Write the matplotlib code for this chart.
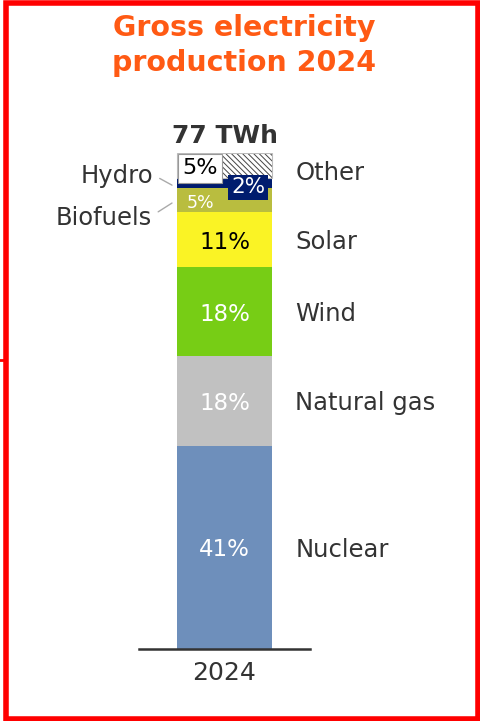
import matplotlib
matplotlib.use("Agg")
import matplotlib.pyplot as plt
from matplotlib.patches import Rectangle
from matplotlib.lines import Line2D

categories = ["Nuclear", "Natural gas", "Wind", "Solar", "Biofuels", "Hydro", "Other"]
shares = [41, 18, 18, 11, 5, 2, 5]
colors = ["#6e8fbb", "#c1c1c1", "#77cd15", "#faf325", "#b9bd3f", "#001c6e", "#ffffff"]
pct_colors = ["white", "white", "white", "black", "white", "white", "black"]
year = "2024"
total_label = "77 TWh"
title_lines = ["Gross electricity", "production 2024"]

plt.rcParams['font.family'] = ['DejaVu Sans']
plt.rcParams['hatch.linewidth'] = 0.7

TXT = "#333333"
fig = plt.figure(figsize=(4.81, 7.21), dpi=100)
ax = fig.add_axes([0.289, 0.0999, 0.3555, 0.688])

x = 0
width = 0.555
bottom = 0
centers = []
for cat, v, c in zip(categories, shares, colors):
    if cat == "Other":
        ax.bar(x, v, width, bottom=bottom, color=c, hatch="\\\\\\\\\\\\",
               edgecolor="#444444", linewidth=0.0)
        ax.bar(x, v, width, bottom=bottom, fill=False, edgecolor="#bbbbbb", linewidth=0.8)
    else:
        ax.bar(x, v, width, bottom=bottom, color=c, linewidth=0)
    centers.append(bottom + v / 2)
    bottom += v

ax.set_xlim(-0.5, 0.5)
ax.set_ylim(0, 100)
for s in ["top", "right", "left"]:
    ax.spines[s].set_visible(False)
ax.spines["bottom"].set_color(TXT)
ax.spines["bottom"].set_linewidth(1.8)
ax.set_yticks([])
ax.set_xticks([x])
ax.set_xticklabels([year], fontsize=18, color=TXT)
ax.tick_params(axis="x", length=0, pad=9)

label_x = 0.415
lead_x = -0.307
for i, cat in enumerate(categories):
    v = shares[i]
    cy = centers[i]
    if cat in ("Nuclear", "Natural gas", "Wind", "Solar"):
        ax.text(label_x, cy, cat, fontsize=17.5, color=TXT, va="center_baseline", ha="left")
        ax.text(x, cy, f"{v}%", fontsize=16.5, color=pct_colors[i],
                va="center_baseline", ha="center")
    elif cat == "Other":
        ax.annotate(cat, (label_x, cy), xytext=(0, -4), textcoords="offset points",
                    fontsize=17.5, color=TXT, va="center_baseline", ha="left",
                    annotation_clip=False)
        ax.annotate(f"{v}%", (x - width / 2, bottom), xytext=(3.8, -3.8),
                    textcoords="offset points", fontsize=16, color="black",
                    va="top", ha="left", annotation_clip=False,
                    bbox=dict(boxstyle="square,pad=0.2", fc="white", ec="#999999", lw=0.8))
    elif cat == "Hydro":
        ax.annotate(cat, (lead_x, cy - 0.5), xytext=(-13.5, 1.5), textcoords="offset points",
                    fontsize=17.5, color=TXT, va="baseline", ha="right",
                    annotation_clip=False,
                    arrowprops=dict(arrowstyle="-", color="#aaaaaa", lw=1,
                                    shrinkA=3, shrinkB=0, relpos=(1, 0.55)))
        ax.annotate(f"{v}%", (x + width / 2, cy), xytext=(-5, -2), textcoords="offset points",
                    fontsize=15.5, color="white", va="center_baseline", ha="right",
                    annotation_clip=False,
                    bbox=dict(boxstyle="square,pad=0.12", fc=colors[i], ec="none"))
    elif cat == "Biofuels":
        ax.annotate(cat, (lead_x, cy - 0.6), xytext=(-14.5, -16), textcoords="offset points",
                    fontsize=17.5, color=TXT, va="baseline", ha="right",
                    annotation_clip=False,
                    arrowprops=dict(arrowstyle="-", color="#aaaaaa", lw=1,
                                    shrinkA=3, shrinkB=0, relpos=(1, 0.6)))
        ax.annotate(f"{v}%", (x - width / 2, cy), xytext=(7, -1), textcoords="offset points",
                    fontsize=12.5, color=pct_colors[i], va="center_baseline", ha="left",
                    annotation_clip=False)

ax.annotate(total_label, (x, bottom), xytext=(0, 7), textcoords="offset points",
            fontsize=18, fontweight="bold", color=TXT, ha="center", va="baseline",
            annotation_clip=False)

fig.text(244 / 481, 1 - 36 / 721, title_lines[0], fontsize=20.5, fontweight="bold",
         color="#ff5a14", ha="center", va="baseline")
fig.text(244 / 481, 1 - 71 / 721, title_lines[1], fontsize=20.5, fontweight="bold",
         color="#ff5a14", ha="center", va="baseline")

fig.patches.append(Rectangle((6 / 481, 2.5 / 721), 472 / 481, 716 / 721,
                             transform=fig.transFigure, fill=False,
                             edgecolor="#ff0000", linewidth=4, joinstyle="miter"))
fig.lines.append(Line2D([0, 6 / 481], [1 - 360 / 721, 1 - 360 / 721],
                        transform=fig.transFigure, color="#ff0000", linewidth=2))

fig.savefig("out.png", dpi=100)
